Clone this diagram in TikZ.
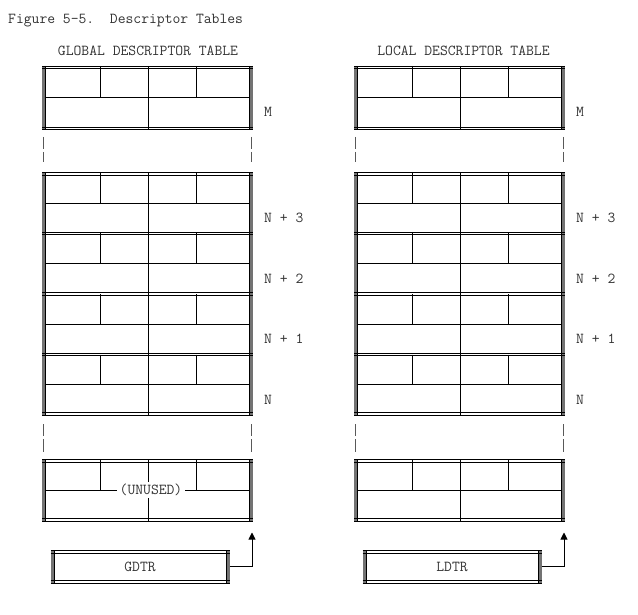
\documentclass[tikz,border=0pt]{standalone}
\usepackage{fontspec}
\usetikzlibrary{arrows.meta}
\newcommand\frameblock[4]{% xleft xright top bottom
  \draw[sidebar] ({#1+1.5},#3) -- ({#1+1.5},#4) ({#2-1.5},#3) -- ({#2-1.5},#4);
  \draw[thinline] ({#1+3.5},#3) -- ({#1+3.5},#4) ({#2-3.5},#3) -- ({#2-3.5},#4);
  \draw[thinline] (#1,#3) -- (#2,#3) (#1,{#3+2.5}) -- (#2,{#3+2.5});
  \draw[thinline] (#1,#4) -- (#2,#4) (#1,{#4-2.5}) -- (#2,{#4-2.5});
}
\newcommand\entrycells[3]{% top mid bottom
  \draw[cell] (45.5,#2) -- (249.5,#2);
  \draw[cell] (100,#1) -- (100,#2) (148,#1) -- (148,#2) (196,#1) -- (196,#2) (148,#2) -- (148,#3);
}
\newcommand\sepline[1]{%
  \draw[thinline] (42,{#1-1.25}) -- (253,{#1-1.25}) (42,{#1+1.25}) -- (253,{#1+1.25});
}
\begin{document}
\begin{tikzpicture}[x=1pt,y=-1pt,
  every node/.style={font=\ttfamily\fontsize{15.2}{17}\selectfont, text=black!80, inner sep=0pt},
  sidebar/.style={draw=black!55, line width=3pt},
  thinline/.style={draw=black, line width=0.9pt},
  cell/.style={draw=black, line width=0.9pt},
  gapline/.style={draw=black!65, line width=1.2pt},
  lbl/.style={anchor=west},
  regbox/.style={minimum width=179pt, minimum height=32.5pt}]
\useasboundingbox (0,0) rectangle (638,615);
\node[anchor=west] (fig) at (8,21) {Figure 5-5.\ \ Descriptor Tables};
\node (gtitle) at (148,51) {GLOBAL DESCRIPTOR TABLE};
\node (ltitle) at (463.5,51) {LOCAL DESCRIPTOR TABLE};
\foreach \ox/\p in {0/g,312/l}{
\begin{scope}[xshift=\ox pt]
  % top entry M
  \entrycells{66}{97.5}{129.5}
  \frameblock{42}{253}{66}{129.5}
  \node[lbl] (\p M) at (264,112) {M};
  % gaps
  \draw[gapline] (43.5,137) -- (43.5,149) (43.5,152) -- (43.5,162);
  \draw[gapline] (251.5,137) -- (251.5,149) (251.5,152) -- (251.5,162);
  % N block
  \entrycells{172.5}{203}{233.5}
  \entrycells{233.5}{263.75}{294}
  \entrycells{294}{324.25}{354.5}
  \entrycells{354.5}{384.75}{415}
  \frameblock{42}{253}{172.5}{415}
  \sepline{233.5}\sepline{294}\sepline{354.5}
  \node[lbl] (\p N3) at (264,218) {N + 3};
  \node[lbl] (\p N2) at (264,278.5) {N + 2};
  \node[lbl] (\p N1) at (264,339) {N + 1};
  \node[lbl] (\p N0) at (264,399.5) {N};
  % gaps
  \draw[gapline] (43.5,424) -- (43.5,436) (43.5,439) -- (43.5,452);
  \draw[gapline] (251.5,424) -- (251.5,436) (251.5,439) -- (251.5,452);
  % bottom entry (null)
  \entrycells{459.5}{490}{521}
  \frameblock{42}{253}{459.5}{521}
  % register
  \frameblock{50.5}{229.5}{550.5}{583}
  \coordinate (\p top) at (252,532.5);
\end{scope}
}
\node[fill=white, inner xsep=3pt, inner ysep=2pt] (unused) at (151,490) {(UNUSED)};
\node[regbox] (gdtr) at (140,566.75) {GDTR};
\node[regbox] (ldtr) at (452,566.75) {LDTR};
\draw[cell, -{Triangle[width=7pt,length=7pt]}] (gdtr.east) -| (gtop);
\draw[cell, -{Triangle[width=7pt,length=7pt]}] (ldtr.east) -| (ltop);
\end{tikzpicture}
\end{document}
